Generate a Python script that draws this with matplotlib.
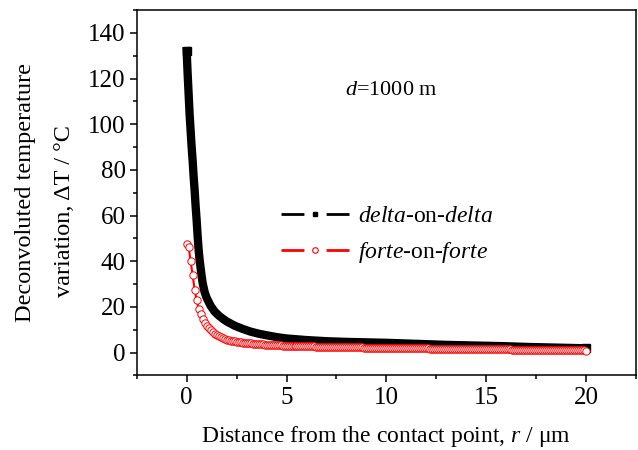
import numpy as np
import matplotlib.pyplot as plt
from matplotlib.lines import Line2D
from matplotlib.ticker import MultipleLocator

plt.rcParams['font.family'] = ['Liberation Serif', 'DejaVu Serif']
plt.rcParams['mathtext.fontset'] = 'custom'
plt.rcParams['mathtext.rm'] = 'Liberation Serif'
plt.rcParams['mathtext.it'] = 'Liberation Serif:italic'
plt.rcParams['lines.scale_dashes'] = False

# delta-on-delta
r_delta = [0.0, 0.05, 0.1, 0.15, 0.2, 0.25, 0.3, 0.35, 0.4, 0.45, 0.5, 0.55, 0.6, 0.65,
           0.7, 0.75, 0.8, 0.9, 1.0, 1.2, 1.4, 1.6, 1.8, 2.0, 2.4, 2.8, 3.2, 3.6, 4.0,
           4.5, 5.0, 6.0, 7.0, 8.0, 9.0, 10.0, 11.0, 12.0, 13.0, 14.0, 15.0, 16.0,
           17.0, 18.0, 19.0, 20.0]
dT_delta = [132, 122, 113, 104, 97, 90, 84, 77, 71, 64, 58, 51, 45, 40.5,
            37, 33.5, 30.5, 26.5, 24, 20.5, 18, 16.3, 14.9, 13.7, 11.8, 10.4, 9.2, 8.3, 7.6,
            6.8, 6.2, 5.5, 5.0, 4.7, 4.5, 4.3, 4.0, 3.7, 3.4, 3.2, 3.0, 2.8,
            2.5, 2.3, 2.1, 1.9]

# forte-on-forte, one point every 0.1 um
r_forte = [0.0, 0.1, 0.2, 0.3, 0.4, 0.5, 0.6, 0.7, 0.8, 0.9, 1.0,
           1.1, 1.2, 1.3, 1.4, 1.5, 1.6, 1.7, 1.8, 1.9, 2.0,
           2.1, 2.2, 2.3, 2.4, 2.5, 2.6, 2.7, 2.8, 2.9, 3.0,
           3.1, 3.2, 3.3, 3.4, 3.5, 3.6, 3.7, 3.8, 3.9, 4.0,
           4.1, 4.2, 4.3, 4.4, 4.5, 4.6, 4.7, 4.8, 4.9, 5.0,
           5.1, 5.2, 5.3, 5.4, 5.5, 5.6, 5.7, 5.8, 5.9, 6.0,
           6.1, 6.2, 6.3, 6.4, 6.5, 6.6, 6.7, 6.8, 6.9, 7.0,
           7.1, 7.2, 7.3, 7.4, 7.5, 7.6, 7.7, 7.8, 7.9, 8.0,
           8.1, 8.2, 8.3, 8.4, 8.5, 8.6, 8.7, 8.8, 8.9, 9.0,
           9.1, 9.2, 9.3, 9.4, 9.5, 9.6, 9.7, 9.8, 9.9, 10.0,
           10.1, 10.2, 10.3, 10.4, 10.5, 10.6, 10.7, 10.8, 10.9, 11.0,
           11.1, 11.2, 11.3, 11.4, 11.5, 11.6, 11.7, 11.8, 11.9, 12.0,
           12.1, 12.2, 12.3, 12.4, 12.5, 12.6, 12.7, 12.8, 12.9, 13.0,
           13.1, 13.2, 13.3, 13.4, 13.5, 13.6, 13.7, 13.8, 13.9, 14.0,
           14.1, 14.2, 14.3, 14.4, 14.5, 14.6, 14.7, 14.8, 14.9, 15.0,
           15.1, 15.2, 15.3, 15.4, 15.5, 15.6, 15.7, 15.8, 15.9, 16.0,
           16.1, 16.2, 16.3, 16.4, 16.5, 16.6, 16.7, 16.8, 16.9, 17.0,
           17.1, 17.2, 17.3, 17.4, 17.5, 17.6, 17.7, 17.8, 17.9, 18.0,
           18.1, 18.2, 18.3, 18.4, 18.5, 18.6, 18.7, 18.8, 18.9, 19.0,
           19.1, 19.2, 19.3, 19.4, 19.5, 19.6, 19.7, 19.8, 19.9, 20.0]
dT_forte = [47.7, 46.2, 40.1, 33.9, 27.6, 23.0, 19.3, 16.7, 14.7, 13.1, 11.8,
            10.6, 9.7, 8.9, 8.2, 7.6, 7.1, 6.7, 6.3, 6.0, 5.7,
            5.5, 5.3, 5.1, 4.95, 4.8, 4.65, 4.5, 4.4, 4.3, 4.2,
            4.1, 4.0, 3.95, 3.9, 3.8, 3.75, 3.7, 3.6, 3.55, 3.5,
            3.45, 3.4, 3.35, 3.3, 3.25, 3.2, 3.15, 3.1, 3.05, 3.0,
            2.98, 2.96, 2.94, 2.92, 2.9, 2.88, 2.85, 2.82, 2.8, 2.77,
            2.75, 2.73, 2.71, 2.69, 2.67, 2.65, 2.63, 2.61, 2.59, 2.57,
            2.55, 2.53, 2.51, 2.49, 2.47, 2.45, 2.43, 2.41, 2.39, 2.37,
            2.35, 2.34, 2.33, 2.32, 2.3, 2.29, 2.27, 2.26, 2.24, 2.22,
            2.21, 2.2, 2.19, 2.17, 2.16, 2.15, 2.13, 2.12, 2.11, 2.1,
            2.08, 2.07, 2.06, 2.05, 2.03, 2.02, 2.01, 2.0, 1.98, 1.96,
            1.95, 1.94, 1.93, 1.92, 1.9, 1.89, 1.88, 1.86, 1.85, 1.83,
            1.82, 1.81, 1.8, 1.79, 1.77, 1.76, 1.75, 1.74, 1.72, 1.71,
            1.7, 1.69, 1.68, 1.67, 1.66, 1.65, 1.64, 1.63, 1.62, 1.6,
            1.59, 1.58, 1.57, 1.56, 1.55, 1.54, 1.53, 1.52, 1.51, 1.5,
            1.49, 1.48, 1.47, 1.46, 1.45, 1.44, 1.43, 1.42, 1.41, 1.4,
            1.39, 1.38, 1.37, 1.36, 1.35, 1.34, 1.33, 1.32, 1.3, 1.29,
            1.28, 1.27, 1.26, 1.25, 1.24, 1.23, 1.22, 1.21, 1.19, 1.18,
            1.17, 1.16, 1.15, 1.14, 1.13, 1.12, 1.11, 1.1, 1.09, 1.07,
            1.06, 1.05, 1.04, 1.03, 1.02, 1.0, 0.99, 0.97, 0.95, 0.93]

fig = plt.figure(figsize=(6.38, 4.5), dpi=100)
ax = fig.add_axes([0.2143, 0.1656, 0.7826, 0.8122])

# thick black band, square ends
ax.plot(r_delta, dT_delta, color='black', lw=6, marker='s', ms=6,
        markevery=[0, len(r_delta) - 1], solid_joinstyle='round', zorder=2)
ax.plot(r_forte, dT_forte, color='red', lw=1.5, marker='o', ms=5.3,
        mfc='white', mec='red', mew=0.7, zorder=3)

ax.set_xlim(-2.5, 22.5)
ax.set_ylim(-10, 150)
ax.xaxis.set_major_locator(MultipleLocator(5))
ax.xaxis.set_minor_locator(MultipleLocator(2.5))
ax.yaxis.set_major_locator(MultipleLocator(20))
ax.yaxis.set_minor_locator(MultipleLocator(10))
ax.tick_params(which='both', direction='out', width=1.1, labelsize=18, pad=3)
ax.tick_params(which='major', length=5)
ax.tick_params(which='minor', length=3)
for s in ax.spines.values():
    s.set_linewidth(1.1)

ax.set_xlabel(r'Distance from the contact point, $\mathit{r}$ / μm', fontsize=17,
              va='center')
ax.xaxis.set_label_coords(0.5, -0.168)
ax.set_ylabel('Deconvoluted temperature\nvariation, ΔT / °C      ', fontsize=17.5,
              va='center', ha='center', linespacing=2.1)
ax.yaxis.set_label_coords(-0.184, 0.5)

ax.text(0.417, 0.781, r'$\mathit{d}$=1000 m', transform=ax.transAxes,
        fontsize=16, ha='left', va='center')

dash = (0, (16.5, 16, 16.5, 16))
handles = [
    Line2D([], [], color='black', lw=2, ls=dash, marker='s', ms=3.5),
    Line2D([], [], color='red', lw=2, ls=dash, marker='o', ms=4,
           mfc='white', mec='red', mew=0.8),
]
labels = [r'$\mathit{delta}$-on-$\mathit{delta}$', r'$\mathit{forte}$-on-$\mathit{forte}$']
ax.legend(handles, labels, loc='center left', bbox_to_anchor=(0.289, 0.383),
          frameon=False, fontsize=17, handlelength=2.88, handletextpad=0.4,
          borderpad=0, borderaxespad=0, labelspacing=0.55, numpoints=1)

fig.savefig('out.png', dpi=100)
